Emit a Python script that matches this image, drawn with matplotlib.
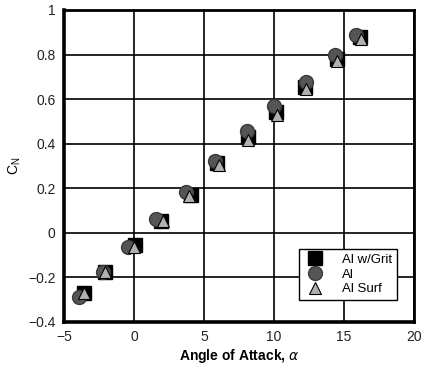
import matplotlib
matplotlib.use("Agg")
import matplotlib.pyplot as plt

# normal-force coefficient vs angle of attack, three surface conditions
alpha_grit = [-3.6, -2.1, 0.05, 1.9, 4.1, 5.9, 8.15, 10.15, 12.25, 14.5, 16.15]
cn_grit = [-0.27, -0.176, -0.056, 0.055, 0.17, 0.312, 0.43, 0.544, 0.656, 0.779, 0.877]

alpha_al = [-3.9, -2.2, -0.4, 1.55, 3.7, 5.8, 8.1, 10.0, 12.3, 14.35, 15.9]
cn_al = [-0.288, -0.175, -0.065, 0.061, 0.185, 0.324, 0.458, 0.569, 0.678, 0.798, 0.888]

alpha_surf = [-3.6, -2.1, 0.0, 2.05, 3.95, 6.1, 8.15, 10.2, 12.3, 14.5, 16.2]
cn_surf = [-0.27, -0.176, -0.062, 0.055, 0.167, 0.304, 0.417, 0.529, 0.645, 0.772, 0.87]

x_ticks = [-5, 0, 5, 10, 15, 20]
y_ticks = [-0.4, -0.2, 0, 0.2, 0.4, 0.6, 0.8, 1]
y_tick_labels = ["\u22120.4", "\u22120.2", "0", "0.2", "0.4", "0.6", "0.8", "1"]
x_tick_labels = ["\u22125", "0", "5", "10", "15", "20"]

plt.rcParams["font.family"] = ["Liberation Sans", "DejaVu Sans"]

fig = plt.figure(figsize=(4.24, 3.70), dpi=100)
ax = fig.add_axes([0.151, 0.13, 0.825, 0.843])

ax.plot(alpha_grit, cn_grit, linestyle="none", marker="s", markersize=10,
        color="black", markeredgecolor="black", label="Al w/Grit", zorder=3)
ax.plot(alpha_al, cn_al, linestyle="none", marker="o", markersize=10,
        color="#555555", markeredgecolor="#3a3a3a", label="Al", zorder=4)
ax.plot(alpha_surf, cn_surf, linestyle="none", marker="^", markersize=9,
        color="#b0b0b0", markeredgecolor="black", markeredgewidth=0.8,
        label="Al Surf", zorder=5)

ax.set_xlim(-5, 20)
ax.set_ylim(-0.4, 1)
ax.set_xticks(x_ticks)
ax.set_xticklabels(x_tick_labels)
ax.set_yticks(y_ticks)
ax.set_yticklabels(y_tick_labels)
ax.tick_params(length=0, labelsize=10, pad=6, colors="#222222")

ax.grid(True, color="black", linewidth=1.2)
ax.set_axisbelow(True)
for side in ["left", "bottom"]:
    ax.spines[side].set_linewidth(2.6)
for side in ["top", "right"]:
    ax.spines[side].set_linewidth(2.0)

ax.set_xlabel(r"Angle of Attack, $\alpha$", fontsize=10, fontweight="bold",
              labelpad=2)
ax.set_ylabel(r"C$_\mathregular{N}$", fontsize=10, labelpad=4, rotation=90)

leg = ax.legend(loc="lower right", bbox_to_anchor=(0.952, 0.07), fontsize=9.5,
                frameon=True, fancybox=False, edgecolor="black",
                framealpha=1, handletextpad=1.3, borderpad=0.35,
                labelspacing=0.2, handlelength=1.6, borderaxespad=0)
leg.get_frame().set_linewidth(1.0)

fig.savefig("out.png", dpi=100)
